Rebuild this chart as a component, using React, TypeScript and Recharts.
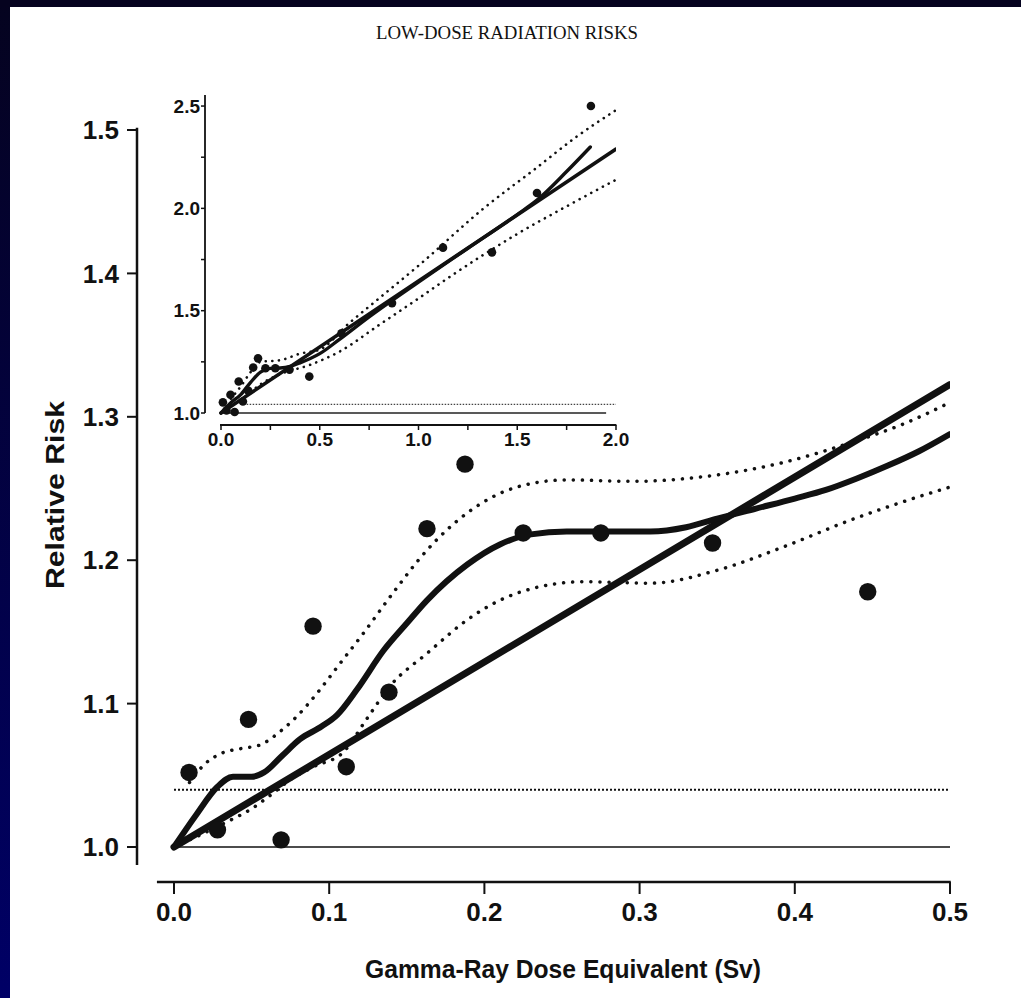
import { useLayoutEffect } from 'react';
import { ComposedChart, Line, Scatter, XAxis, YAxis, ReferenceLine } from 'recharts';

// observed relative risk per dose category, 0 - 0.5 Sv
const doses = [0.0097, 0.028, 0.048, 0.069, 0.0896, 0.111, 0.1385, 0.163, 0.1875, 0.225, 0.275, 0.347, 0.447];
const risks = [1.052, 1.012, 1.089, 1.005, 1.154, 1.056, 1.108, 1.222, 1.267, 1.219, 1.219, 1.212, 1.178];

// extra high-dose categories only shown in the inset
const highDoses = [0.61, 0.866, 1.124, 1.372, 1.6, 1.873];
const highRisks = [1.39, 1.537, 1.808, 1.785, 2.075, 2.5];

// main panel curves
const linearX = [0, 0.5];
const linearY = [1.0, 1.3225];

const fitX = [0, 0.014, 0.028, 0.038, 0.05, 0.058, 0.07, 0.081, 0.095, 0.105, 0.118, 0.135, 0.15, 0.163, 0.189, 0.21, 0.23, 0.253, 0.28, 0.307, 0.33, 0.35, 0.375, 0.4, 0.42, 0.44, 0.46, 0.48, 0.5];
const fitY = [1.0, 1.022, 1.042, 1.049, 1.049, 1.052, 1.064, 1.075, 1.084, 1.092, 1.11, 1.137, 1.156, 1.172, 1.197, 1.211, 1.218, 1.22, 1.22, 1.22, 1.223, 1.229, 1.236, 1.243, 1.249, 1.257, 1.266, 1.276, 1.288];

const upperX = [0.01, 0.02, 0.03, 0.045, 0.055, 0.07, 0.08, 0.092, 0.107, 0.122, 0.141, 0.163, 0.189, 0.221, 0.253, 0.296, 0.339, 0.392, 0.436, 0.47, 0.5];
const upperY = [1.045, 1.058, 1.065, 1.069, 1.071, 1.082, 1.092, 1.107, 1.128, 1.149, 1.177, 1.207, 1.233, 1.251, 1.256, 1.255, 1.258, 1.268, 1.282, 1.295, 1.31];

const lowerX = [0, 0.02, 0.035, 0.049, 0.062, 0.075, 0.09, 0.109, 0.124, 0.139, 0.163, 0.191, 0.221, 0.264, 0.307, 0.35, 0.392, 0.436, 0.479, 0.5];
const lowerY = [1.0, 1.01, 1.018, 1.026, 1.036, 1.047, 1.056, 1.066, 1.089, 1.112, 1.135, 1.16, 1.177, 1.185, 1.184, 1.193, 1.209, 1.228, 1.244, 1.251];

const mainTicksX = [0, 0.1, 0.2, 0.3, 0.4, 0.5];
const mainTicksY = [1.0, 1.1, 1.2, 1.3, 1.4, 1.5];

// inset curves, 0 - 2 Sv
const insetLinearX = [0, 2.0];
const insetLinearY = [1.0, 2.29];

const insetFitX = [0, 0.05, 0.1, 0.15, 0.2, 0.25, 0.3, 0.35, 0.4, 0.5, 0.6, 0.75, 1.0, 1.25, 1.5, 1.6, 1.75, 1.87];
const insetFitY = [1.0, 1.05, 1.09, 1.15, 1.2, 1.218, 1.22, 1.228, 1.245, 1.29, 1.36, 1.47, 1.64, 1.805, 1.97, 2.04, 2.18, 2.3];

const insetUpperX = [0.05, 0.1, 0.15, 0.2, 0.3, 0.4, 0.5, 0.65, 0.8, 1.0, 1.33, 1.6, 1.8, 2.0];
const insetUpperY = [1.07, 1.13, 1.2, 1.25, 1.258, 1.29, 1.31, 1.44, 1.56, 1.72, 2.0, 2.2, 2.35, 2.48];

const insetLowerX = [0.1, 0.2, 0.3, 0.45, 0.6, 0.8, 1.0, 1.15, 1.5, 1.75, 2.0];
const insetLowerY = [1.06, 1.14, 1.19, 1.235, 1.3, 1.43, 1.56, 1.66, 1.875, 2.01, 2.14];

const insetTicksX = [0, 0.25, 0.5, 0.75, 1.0, 1.25, 1.5, 1.75, 2.0];
const insetTicksY = [1.0, 1.25, 1.5, 1.75, 2.0, 2.25, 2.5];

const zip = (xs: number[], ys: number[]) => xs.map((x, i) => ({ x, y: ys[i] }));

const INK = '#111';
const SANS = "'Liberation Sans', Arial, Helvetica, sans-serif";

const mainDot = (p: any) => <circle cx={p.cx} cy={p.cy} r={8.7} fill={INK} />;
const insetDot = (p: any) => <circle cx={p.cx} cy={p.cy} r={4.3} fill={INK} />;

function MainChart() {
  const tickStyle = { fontSize: 26, fontWeight: 700, fill: INK, fontFamily: SANS };
  return (
    <ComposedChart width={1021} height={998} margin={{ top: 130, right: 71, left: 0, bottom: 56 }}>
      <XAxis
        type="number"
        dataKey="x"
        domain={[-0.02384, 0.5]}
        allowDataOverflow
        ticks={mainTicksX}
        tickFormatter={(v: number) => v.toFixed(1)}
        axisLine={false}
        tickLine={{ stroke: INK, strokeWidth: 2 }}
        tickSize={12}
        tickMargin={9}
        height={60}
        tick={tickStyle}
      />
      <YAxis
        type="number"
        dataKey="y"
        domain={[0.9756, 1.5]}
        allowDataOverflow
        ticks={mainTicksY}
        tickFormatter={(v: number) => v.toFixed(1)}
        axisLine={false}
        tickLine={{ stroke: INK, strokeWidth: 2 }}
        tickSize={10}
        tickMargin={8}
        width={137}
        tick={tickStyle}
      />
      {/* axis lines, offset from the origin like the original */}
      <ReferenceLine segment={[{ x: -0.02384, y: 0.9874 }, { x: -0.02384, y: 1.5015 }]} stroke={INK} strokeWidth={2.5} ifOverflow="visible" />
      <ReferenceLine segment={[{ x: -0.011, y: 0.9756 }, { x: 0.5005, y: 0.9756 }]} stroke={INK} strokeWidth={2.5} ifOverflow="visible" />
      <ReferenceLine segment={[{ x: 0, y: 1.0 }, { x: 0.5, y: 1.0 }]} stroke={INK} strokeWidth={1.6} ifOverflow="visible" />
      <ReferenceLine segment={[{ x: 0, y: 1.04 }, { x: 0.5, y: 1.04 }]} stroke={INK} strokeWidth={2} strokeDasharray="2 2" ifOverflow="visible" />

      <Line data={zip(upperX, upperY)} dataKey="y" type="monotone" stroke={INK} strokeWidth={3.5} strokeDasharray="0.1 9" strokeLinecap="round" dot={false} isAnimationActive={false} />
      <Line data={zip(lowerX, lowerY)} dataKey="y" type="monotone" stroke={INK} strokeWidth={3.5} strokeDasharray="0.1 9" strokeLinecap="round" dot={false} isAnimationActive={false} />
      <Line data={zip(linearX, linearY)} dataKey="y" type="linear" stroke={INK} strokeWidth={7} strokeLinecap="round" dot={false} isAnimationActive={false} />
      <Line data={zip(fitX, fitY)} dataKey="y" type="monotone" stroke={INK} strokeWidth={6} strokeLinecap="round" dot={false} isAnimationActive={false} />
      <Scatter data={zip(doses, risks)} shape={mainDot} isAnimationActive={false} />
    </ComposedChart>
  );
}

function InsetChart() {
  const tickStyle = { fontSize: 19, fontWeight: 700, fill: INK, fontFamily: SANS };
  const major = (v: number) => (Math.abs(v * 2 - Math.round(v * 2)) < 1e-6 ? v.toFixed(1) : '');
  return (
    <ComposedChart width={480} height={380} margin={{ top: 15, right: 14, left: 0, bottom: 10 }}>
      <XAxis
        type="number"
        dataKey="x"
        domain={[-0.081, 2.0]}
        allowDataOverflow
        ticks={insetTicksX}
        tickFormatter={major}
        axisLine={false}
        tickLine={{ stroke: INK, strokeWidth: 1.5 }}
        tickSize={5}
        tickMargin={3}
        height={25}
        tick={tickStyle}
      />
      <YAxis
        type="number"
        dataKey="y"
        domain={[0.9414, 2.554]}
        allowDataOverflow
        ticks={insetTicksY}
        tickFormatter={major}
        axisLine={false}
        tickLine={{ stroke: INK, strokeWidth: 1.5 }}
        tickSize={4}
        tickMargin={1}
        width={55}
        tick={tickStyle}
      />
      <ReferenceLine segment={[{ x: -0.081, y: 1.0 }, { x: -0.081, y: 2.554 }]} stroke={INK} strokeWidth={1.8} ifOverflow="visible" />
      <ReferenceLine segment={[{ x: -0.005, y: 0.9414 }, { x: 2.002, y: 0.9414 }]} stroke={INK} strokeWidth={1.8} ifOverflow="visible" />
      <ReferenceLine segment={[{ x: 0, y: 1.0 }, { x: 1.95, y: 1.0 }]} stroke="#222" strokeWidth={1.3} ifOverflow="visible" />
      <ReferenceLine segment={[{ x: 0.13, y: 1.042 }, { x: 2.0, y: 1.042 }]} stroke="#444" strokeWidth={1.2} strokeDasharray="1.5 1.5" ifOverflow="visible" />

      <Line data={zip(insetUpperX, insetUpperY)} dataKey="y" type="monotone" stroke={INK} strokeWidth={2.6} strokeDasharray="0.1 6.5" strokeLinecap="round" dot={false} isAnimationActive={false} />
      <Line data={zip(insetLowerX, insetLowerY)} dataKey="y" type="monotone" stroke={INK} strokeWidth={2.6} strokeDasharray="0.1 6.5" strokeLinecap="round" dot={false} isAnimationActive={false} />
      <Line data={zip(insetLinearX, insetLinearY)} dataKey="y" type="linear" stroke={INK} strokeWidth={3.6} strokeLinecap="round" dot={false} isAnimationActive={false} />
      <Line data={zip(insetFitX, insetFitY)} dataKey="y" type="monotone" stroke={INK} strokeWidth={3.4} strokeLinecap="round" dot={false} isAnimationActive={false} />
      <Scatter data={zip(doses.concat(highDoses), risks.concat(highRisks))} shape={insetDot} isAnimationActive={false} />
    </ComposedChart>
  );
}

export default function App() {
  // keep the page from growing scrollbars
  useLayoutEffect(() => {
    document.documentElement.style.overflow = 'hidden';
    document.body.style.overflow = 'hidden';
    document.body.style.margin = '0';
  }, []);

  return (
    <div style={{ position: 'fixed', left: 0, top: 0, width: 1021, height: 998, background: '#fff', overflow: 'hidden' }}>
      <div style={{ position: 'absolute', left: 0, top: 0, width: 10, height: 998, background: 'linear-gradient(#05031f, #000066)' }} />
      <div style={{ position: 'absolute', left: 0, top: 0, width: 1021, height: 7, background: '#05031f' }} />
      <div style={{ position: 'absolute', left: 0, top: 0 }}>
        <MainChart />
      </div>
      <div style={{ position: 'absolute', left: 150, top: 80 }}>
        <InsetChart />
      </div>
      <svg width={1021} height={998} style={{ position: 'absolute', left: 0, top: 0, pointerEvents: 'none' }}>
        <text x={507} y={39} textAnchor="middle" fontFamily="'Liberation Serif', 'Times New Roman', serif" fontSize={18} fill={INK} textLength={262} lengthAdjust="spacingAndGlyphs">
          LOW-DOSE RADIATION RISKS
        </text>
        <text x={563} y={978} textAnchor="middle" fontFamily={SANS} fontWeight={700} fontSize={26} fill={INK} textLength={396} lengthAdjust="spacingAndGlyphs">
          Gamma-Ray Dose Equivalent (Sv)
        </text>
        <text transform="translate(64,495) rotate(-90)" textAnchor="middle" fontFamily={SANS} fontWeight={700} fontSize={26} fill={INK} textLength={188} lengthAdjust="spacingAndGlyphs">
          Relative Risk
        </text>
      </svg>
    </div>
  );
}
